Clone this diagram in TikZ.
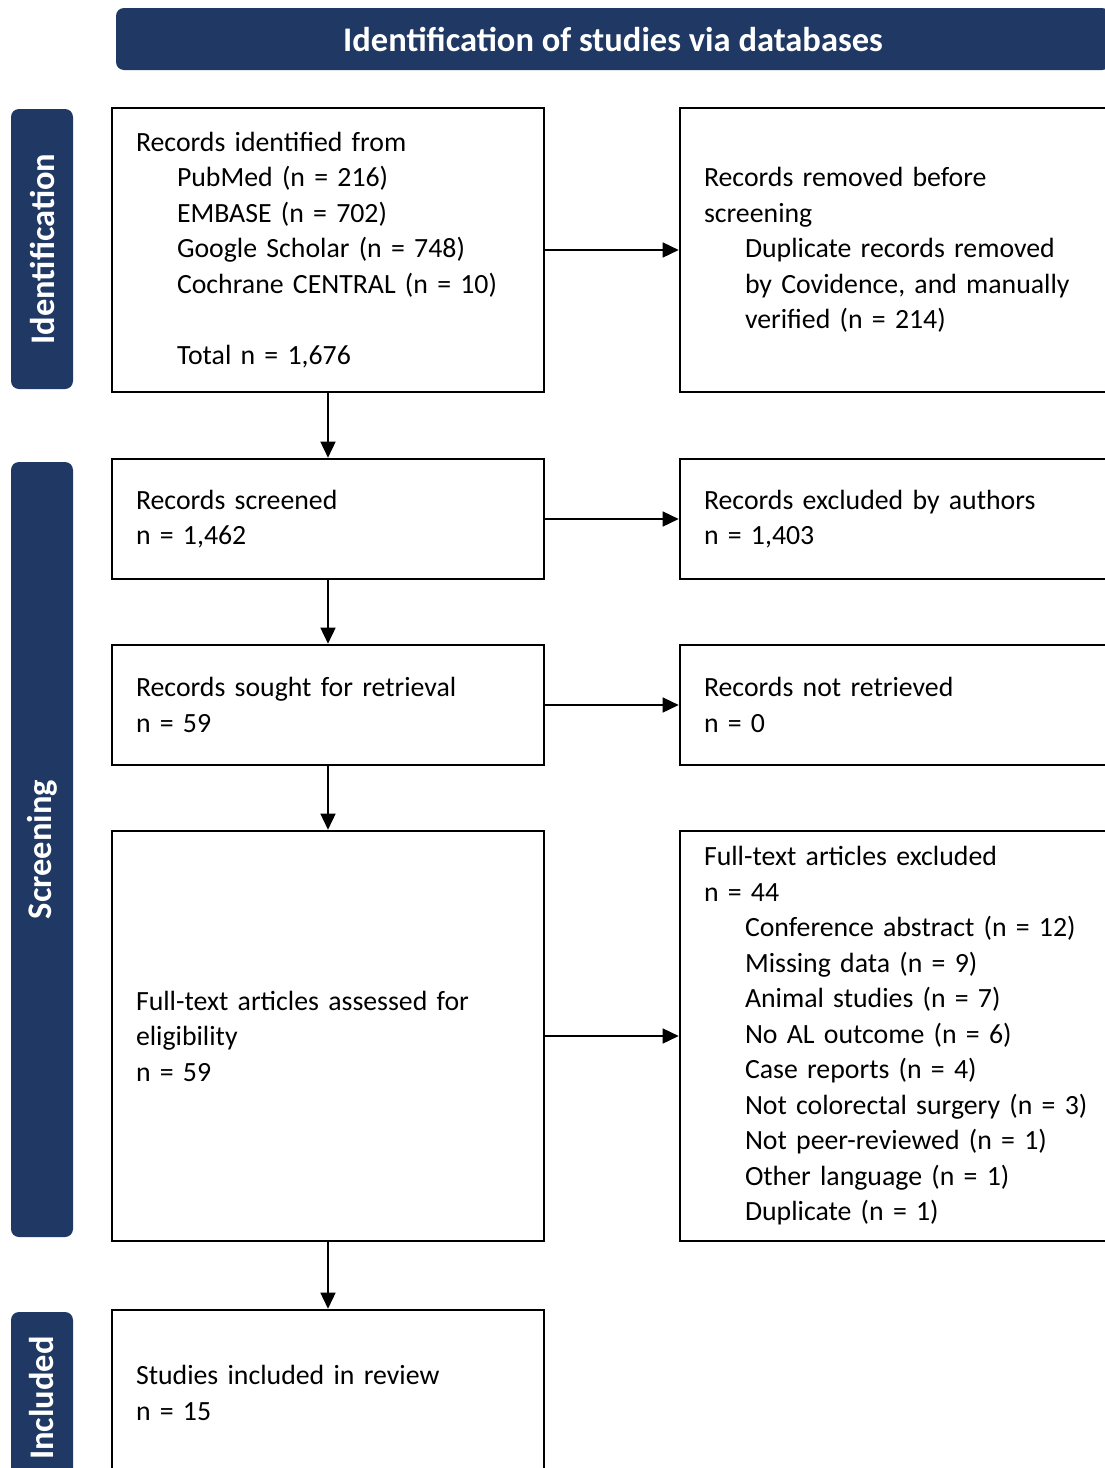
\documentclass[tikz,border=0pt]{standalone}
\usepackage{fontspec}
\setmainfont{Carlito}
\usetikzlibrary{arrows.meta}
\definecolor{navy}{HTML}{1F3864}
\begin{document}
\begin{tikzpicture}[x=1pt,y=-1pt,
  box/.style={draw=black, line width=2.6pt, rectangle, align=left, inner xsep=24pt, inner ysep=0pt,
    font=\fontsize{27.8}{35.5}\selectfont},
  lbox/.style={box, minimum width=432pt, text width=384pt},
  rbox/.style={box, minimum width=440pt, text width=392pt},
  bar/.style={fill=navy, rounded corners=8pt, draw=none},
  bartext/.style={text=white, font=\fontsize{34.5}{38}\bfseries\selectfont, rotate=90},
  arr/.style={line width=1.5pt, -{Triangle[length=16pt,width=15pt]}}]
\useasboundingbox (0,0) rectangle (1105,1468);
\fill[white] (0,0) rectangle (1105,1468);
% header
\node[fill=navy, rounded corners=8pt, minimum width=994pt, minimum height=62pt, text=white,
  font=\fontsize{34.5}{38}\bfseries\selectfont] (head) at (613,39) {Identification of studies via databases};
% side bars
\node[bar, minimum width=62pt, minimum height=280pt] (sid) at (42,249) {};
\node[bartext] (sidt) at (sid.center) {Identification};
\node[bar, minimum width=62pt, minimum height=775pt] (sscr) at (42,849.5) {};
\node[bartext] (sscrt) at (sscr.center) {Screening};
\node[bar, minimum width=62pt, minimum height=172pt] (sinc) at (42,1398) {};
\node[bartext] (sinct) at (sinc.center) {Included};
% left boxes
\node[lbox, minimum height=284pt] (b1) at (328,250) {Records identified from\\
\hspace*{41pt}PubMed (n = 216)\\
\hspace*{41pt}EMBASE (n = 702)\\
\hspace*{41pt}Google Scholar (n = 748)\\
\hspace*{41pt}Cochrane CENTRAL (n = 10)\\
\mbox{}\\
\hspace*{41pt}Total n = 1,676};
\node[lbox, minimum height=120pt] (b3) at (328,519) {Records screened\\ n = 1,462};
\node[lbox, minimum height=120pt] (b5) at (328,705) {Records sought for retrieval\\ n = 59};
\node[lbox, minimum height=410pt] (b7) at (328,1036) {Full-text articles assessed for\\ eligibility\\ n = 59};
\node[lbox, minimum height=166pt] (b9) at (328,1393) {Studies included in review\\ n = 15};
% right boxes
\node[rbox, minimum height=284pt] (b2) at (900,250) {Records removed before\\ screening\\
\hspace*{41pt}Duplicate records removed\\
\hspace*{41pt}by Covidence, and manually\\
\hspace*{41pt}verified (n = 214)};
\node[rbox, minimum height=120pt] (b4) at (900,519) {Records excluded by authors\\ n = 1,403};
\node[rbox, minimum height=120pt] (b6) at (900,705) {Records not retrieved\\ n = 0};
\node[rbox, minimum height=410pt] (b8) at (900,1036) {Full-text articles excluded\\ n = 44\\
\hspace*{41pt}Conference abstract (n = 12)\\
\hspace*{41pt}Missing data (n = 9)\\
\hspace*{41pt}Animal studies (n = 7)\\
\hspace*{41pt}No AL outcome (n = 6)\\
\hspace*{41pt}Case reports (n = 4)\\
\hspace*{41pt}Not colorectal surgery (n = 3)\\
\hspace*{41pt}Not peer-reviewed (n = 1)\\
\hspace*{41pt}Other language (n = 1)\\
\hspace*{41pt}Duplicate (n = 1)};
% arrows
\draw[arr] (b1.south) -- (b3.north);
\draw[arr] (b3.south) -- (b5.north);
\draw[arr] (b5.south) -- (b7.north);
\draw[arr] (b7.south) -- (b9.north);
\draw[arr] (b1.east) -- (b2.west);
\draw[arr] (b3.east) -- (b4.west);
\draw[arr] (b5.east) -- (b6.west);
\draw[arr] (b7.east) -- (b8.west);
\end{tikzpicture}
\end{document}
